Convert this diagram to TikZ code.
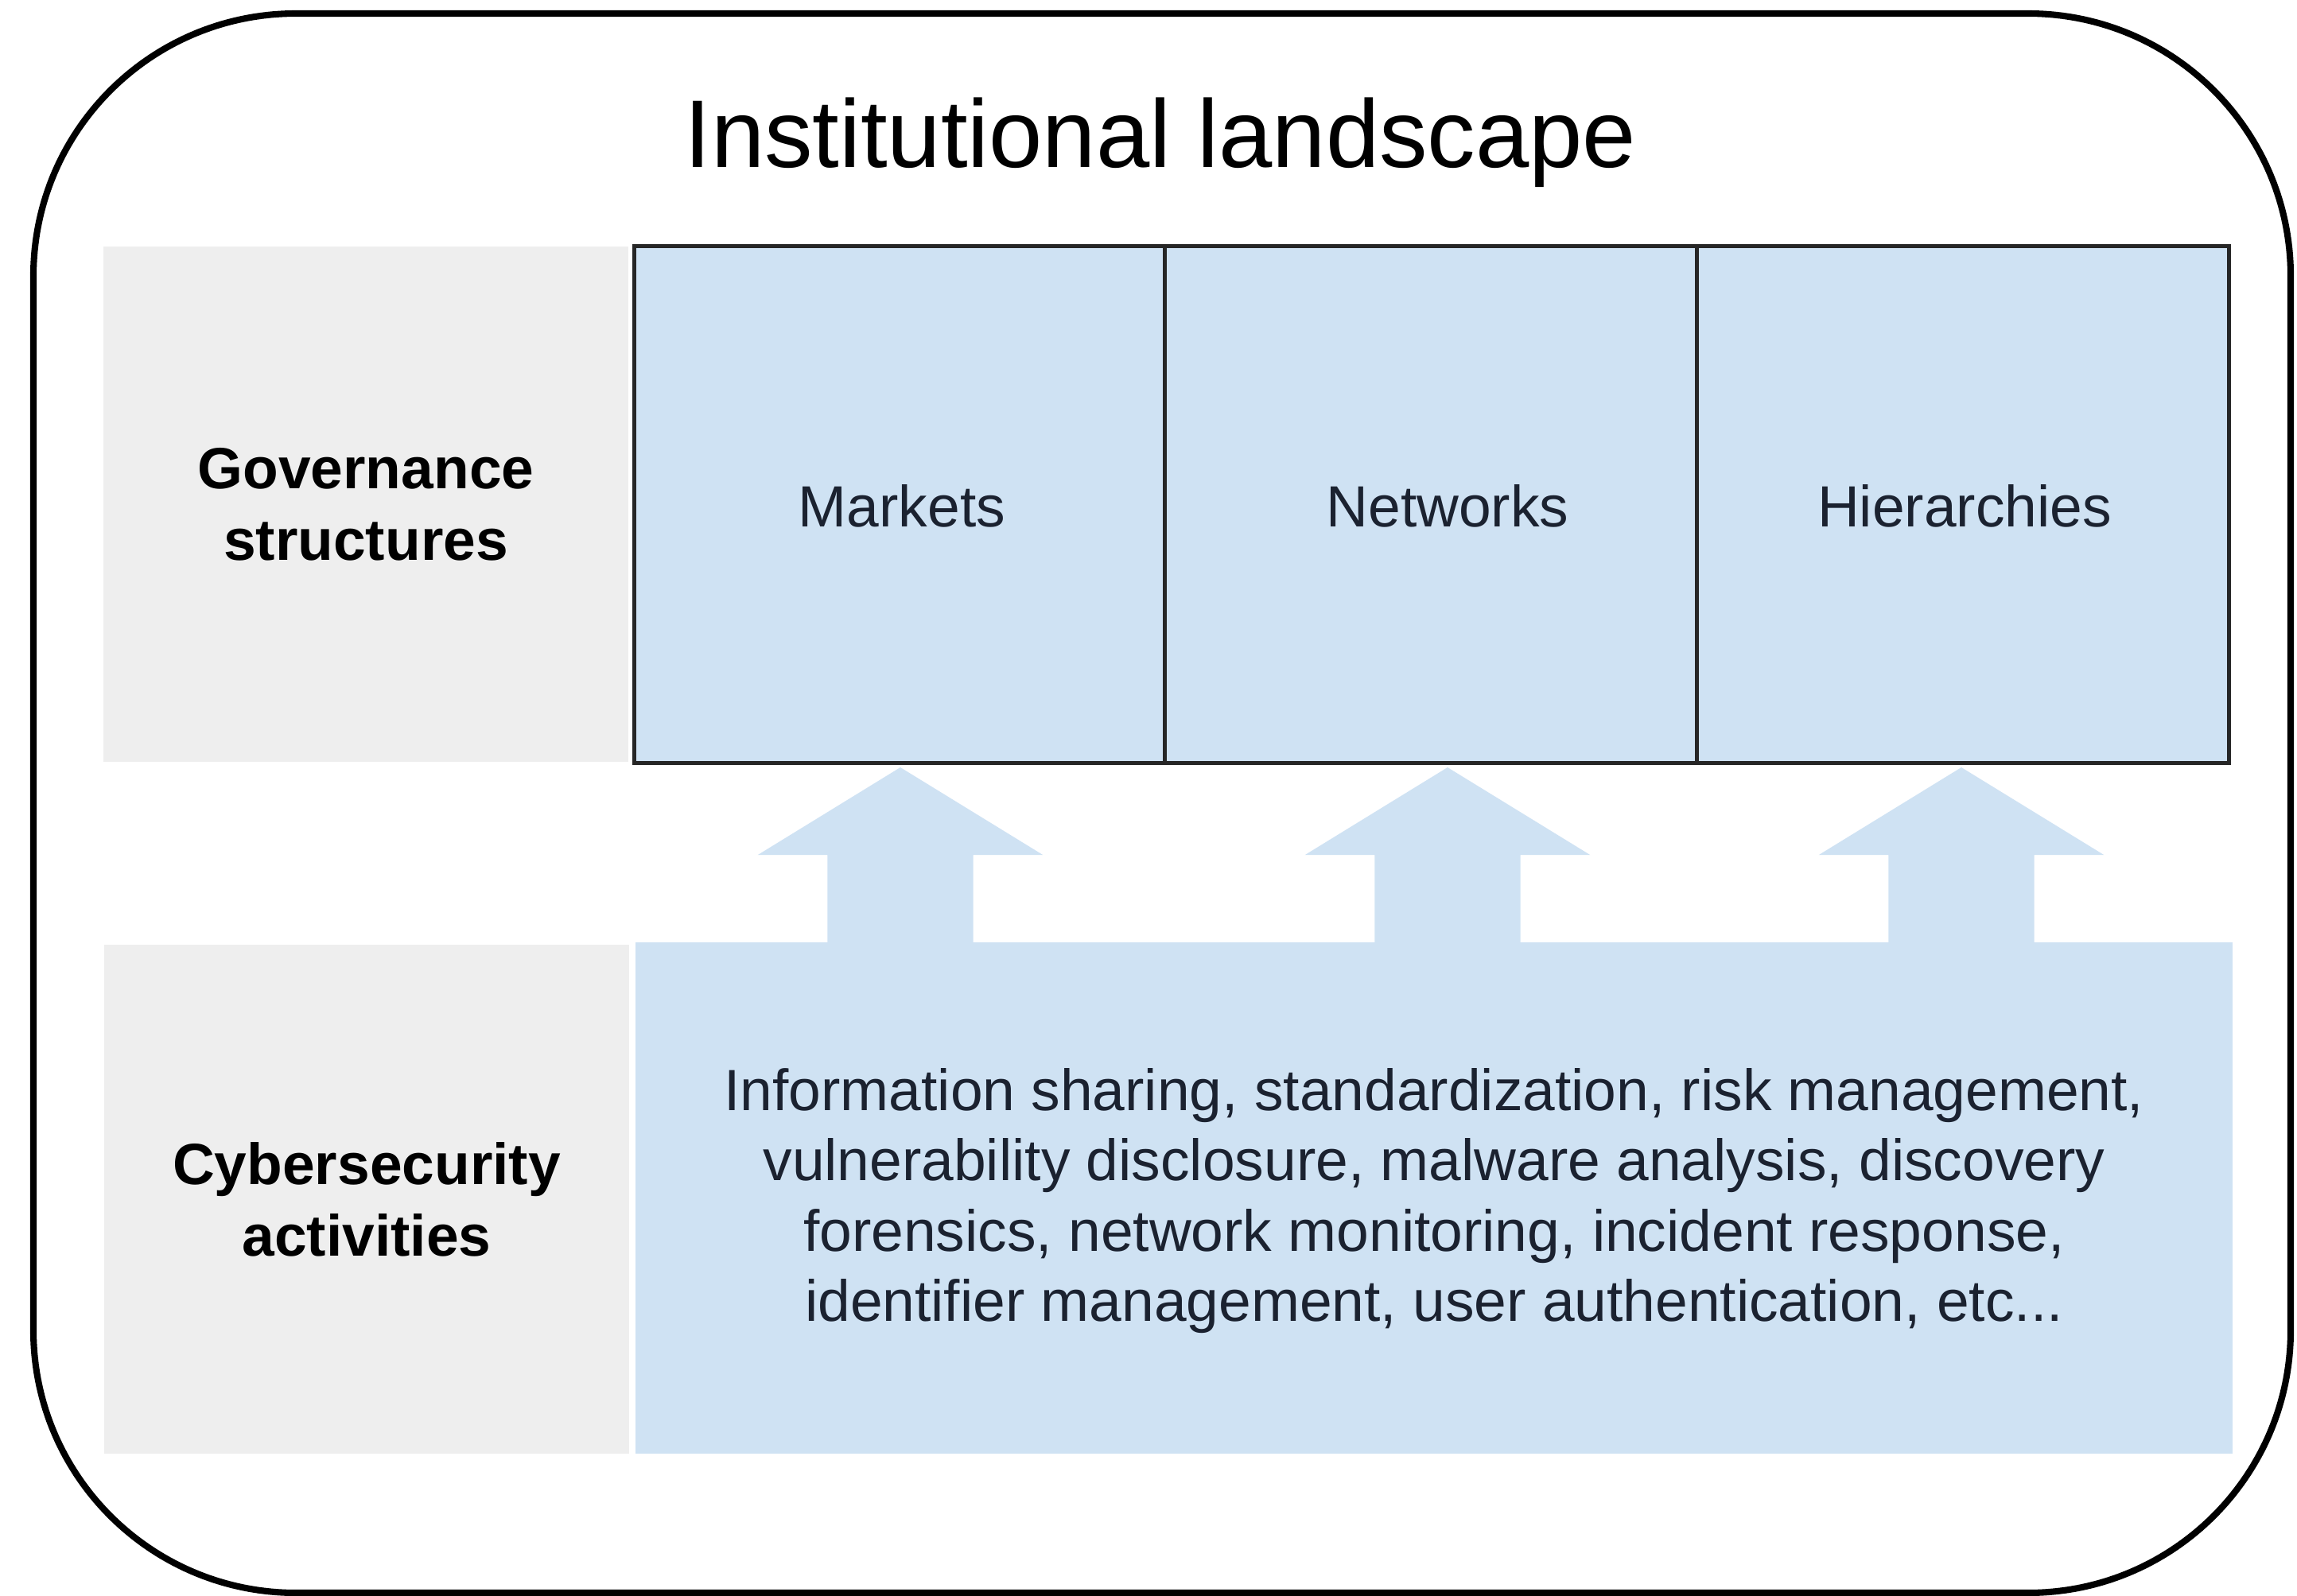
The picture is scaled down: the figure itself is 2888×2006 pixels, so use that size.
\documentclass[tikz,border=0pt]{standalone}
\usepackage{fontspec}
\setmainfont{Liberation Sans}
\definecolor{cellblue}{HTML}{CFE2F3}
\definecolor{sidegray}{HTML}{EEEEEE}
\definecolor{celltext}{HTML}{1B2230}
\begin{document}
\begin{tikzpicture}[x=0.01cm,y=-0.01cm,
  frame/.style={draw=black,line width=2.3pt,rounded corners=3.3cm},
  sidebox/.style={fill=sidegray,draw=none,inner sep=0pt,minimum width=6.6cm,align=center,
    font=\bfseries\fontsize{20.8pt}{25.6pt}\selectfont,text=black},
  cell/.style={fill=cellblue,draw=black!85,line width=1.4pt,inner sep=0pt,
    minimum width=6.68cm,minimum height=6.49cm},
  celllabel/.style={font=\fontsize{20.8pt}{25pt}\selectfont,text=celltext,inner sep=0pt},
  bigbox/.style={fill=cellblue,draw=none,inner sep=0pt,minimum width=20.06cm,minimum height=6.43cm},
  activity/.style={font=\fontsize{20.8pt}{25.2pt}\selectfont,text=celltext,align=center,inner sep=0pt},
  uparrow/.style={fill=cellblue,draw=none}
]
\useasboundingbox (0,0) rectangle (2888,2006);
\fill[white] (0,0) rectangle (2888,2006);

% outer frame
\draw[frame] (42,17) rectangle (2880,2003);

% title
\node[font=\fontsize{34.4pt}{40pt}\selectfont,anchor=base,inner sep=0pt] (title) at (1459,210) {Institutional landscape};

% left grey boxes
\node[sidebox,minimum height=6.48cm] (gov) at (460,634) {Governance\\structures};
\node[sidebox,minimum height=6.40cm] (cyb) at (461,1508) {Cybersecurity\\activities};

% bottom activities box
\node[bigbox] (act) at (1803,1506.5) {};
\node[activity] (acttext) at (1803,1510) {Information sharing, standardization, risk management,\\vulnerability disclosure, malware analysis, discovery\\forensics, network monitoring, incident response,\\identifier management, user authentication, etc...};

% block arrows (drawn under the top cells)
\foreach \name/\cx in {a1/1132, a2/1820, a3/2466}{
  \coordinate (\name) at (\cx,965);
  \fill[uparrow] ([xshift=-0.915cm]\name |- act.north) ++(0,5)
     -- ([xshift=-0.915cm]\name |- 0,1075)
     -- ([xshift=-1.79cm]\name |- 0,1075)
     -- (\name)
     -- ([xshift=1.79cm]\name |- 0,1075)
     -- ([xshift=0.915cm]\name |- 0,1075)
     -- ([xshift=0.915cm]\name |- act.north) -- ++(0,5) -- cycle;
}

% governance structure cells
\node[cell] (mkt) at (1131.5,634.5) {};
\node[cell] (net) at (1799,634.5) {};
\node[cell] (hie) at (2468,634.5) {};
\node[celllabel] at (1134,636) {Markets};
\node[celllabel] at (1820,636) {Networks};
\node[celllabel] at (2470,636) {Hierarchies};
\end{tikzpicture}
\end{document}
